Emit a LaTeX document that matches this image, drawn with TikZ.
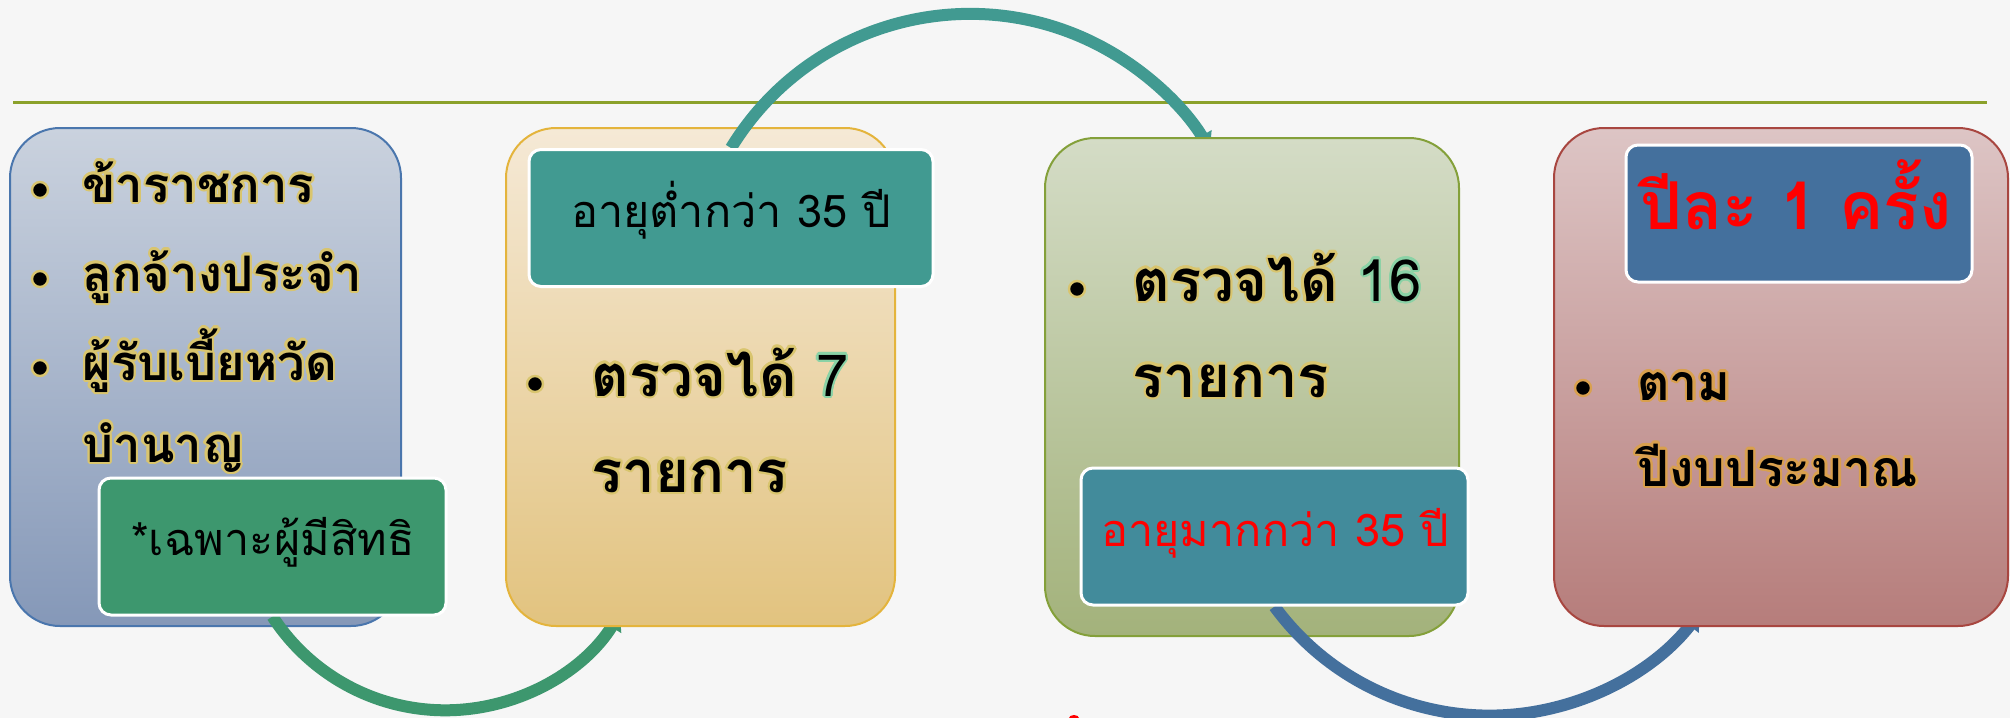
\documentclass[tikz,border=0pt]{standalone}
\usepackage{fontspec}
\setmainfont{Loma}[Script=Thai]
\usepackage[copies]{contour}
\contourlength{1.2pt}
\usetikzlibrary{arrows.meta}

\definecolor{paper}{HTML}{F6F6F6}
\definecolor{rule}{HTML}{8BA12B}
\definecolor{glowy}{HTML}{D9C56E}
\definecolor{glowo}{HTML}{D9A04E}
\definecolor{glowg}{HTML}{8AD2A6}
\definecolor{boxAtop}{HTML}{CAD2DE}
\definecolor{boxAbot}{HTML}{8598B8}
\definecolor{boxAline}{HTML}{4A76AD}
\definecolor{boxBtop}{HTML}{F5E9D6}
\definecolor{boxBbot}{HTML}{E2C37F}
\definecolor{boxBline}{HTML}{E4B43C}
\definecolor{boxCtop}{HTML}{D4DCC6}
\definecolor{boxCbot}{HTML}{A3B27B}
\definecolor{boxCline}{HTML}{84A03A}
\definecolor{boxDtop}{HTML}{DDC5C5}
\definecolor{boxDbot}{HTML}{B67D7B}
\definecolor{boxDline}{HTML}{A84640}
\definecolor{tagA}{HTML}{3D976E}
\definecolor{tagB}{HTML}{419A91}
\definecolor{tagC}{HTML}{428B9B}
\definecolor{tagD}{HTML}{44709D}

\newcommand{\glow}[1]{\contour{glowy}{#1}}
\newcommand{\glownum}[1]{{\mdseries\contour{glowg}{#1}}}

\pgfdeclarelayer{front}
\pgfsetlayers{main,front}

\begin{document}
\begin{tikzpicture}[x=0.5pt,y=0.5pt,
  box/.style={rounded corners=25pt, line width=1pt, inner sep=0pt, minimum height=249pt},
  tag/.style={rounded corners=6pt, draw=white, line width=1.5pt, inner sep=0pt, minimum height=68.5pt},
  flow/.style={line width=6pt, -{Triangle[length=8pt,width=11pt]}},
  dot/.style={circle, fill=black, draw=glowy, line width=1.2pt, inner sep=0pt, minimum size=8pt},
  item/.style={anchor=base west, inner sep=0pt, font=\bfseries\fontsize{24.5}{30}\selectfont},
  itembig/.style={anchor=base west, inner sep=0pt, font=\bfseries\fontsize{29}{34}\selectfont},
  label/.style={anchor=base, inner sep=0pt, font=\fontsize{22.5}{27}\selectfont}]
  \useasboundingbox (0,0) rectangle (2010,-718);
  \fill[paper] (0,0) rectangle (2010,-718);
  \draw[rule, line width=1.5pt] (13,-102) -- (1987,-102);

  % tags on top
  \begin{pgfonlayer}{front}
    \node[tag, fill=tagA, minimum width=173.5pt] (sub1) at (272.5,-546.5) {};
    \node[label] (lab1) at (273,-555) {*เฉพาะผู้มีสิทธิ};
    \node[tag, fill=tagB, minimum width=202pt] (tag2) at (731,-218) {};
    \node[label] (lab2) at (731,-227) {อายุต่ำกว่า 35 ปี};
    \node[tag, fill=tagC, minimum width=193.5pt] (tag3) at (1274.5,-536.5) {};
    \node[label, text=red] (lab3) at (1275,-546) {อายุมากกว่า 35 ปี};
    \node[tag, fill=tagD, minimum width=173pt] (sub4) at (1799,-213.5) {};
    \node[label, text=red, font=\bfseries\fontsize{33}{38}\selectfont] (lab4) at (1796,-229) {ปีละ 1 ครั้ง};
  \end{pgfonlayer}

  % boxes, each arrow runs under the next box
  \node[box, top color=boxAtop, bottom color=boxAbot, draw=boxAline, minimum width=195.5pt] (box1) at (205.5,-377) {};
  \draw[flow, tagA] (sub1.south) arc[start angle=213, end angle=328, radius=206];
  \node[box, top color=boxBtop, bottom color=boxBbot, draw=boxBline, minimum width=194.5pt] (box2) at (700.5,-377) {};
  \draw[flow, tagB] (tag2.north) arc[start angle=148.6, end angle=31, radius=280];
  \node[box, top color=boxCtop, bottom color=boxCbot, draw=boxCline, minimum width=207pt] (box3) at (1252,-387) {};
  \draw[flow, tagD] (tag3.south) arc[start angle=216.2, end angle=322, radius=266.5];
  \node[box, top color=boxDtop, bottom color=boxDbot, draw=boxDline, minimum width=227pt] (box4) at (1781,-377) {};

  % box texts
  \foreach \txt/\yy [count=\i] in {ข้าราชการ/202, ลูกจ้างประจำ/291, ผู้รับเบี้ยหวัด/380} {
    \node[dot] (d1\i) at (40,-\yy+12) {};
    \node[item] (t1\i) at (82,-\yy) {\glow{\txt}};
  }
  \node[item] (t14) at (82,-462) {\glow{บำนาญ}};

  \node[dot] (d2) at (535,-384) {};
  \node[itembig] (t21) at (591,-396) {\glow{ตรวจได้} \glownum{7}};
  \node[itembig] (t22) at (591,-492) {\glow{รายการ}};

  \node[dot] (d3) at (1077,-289) {};
  \node[itembig] (t31) at (1132,-301) {\glow{ตรวจได้} \glownum{16}};
  \node[itembig] (t32) at (1132,-397) {\glow{รายการ}};

  \node[dot, draw=glowo] (d4) at (1583,-388) {};
  \node[item, font=\bfseries\fontsize{25}{30}\selectfont] (t41) at (1637,-400) {\contour{glowo}{ตาม}};
  \node[item, font=\bfseries\fontsize{25}{30}\selectfont] (t42) at (1637,-486) {\contour{glowo}{ปีงบประมาณ}};

  \fill[red] (1074,-718) ellipse[x radius=5, y radius=3];
\end{tikzpicture}
\end{document}
